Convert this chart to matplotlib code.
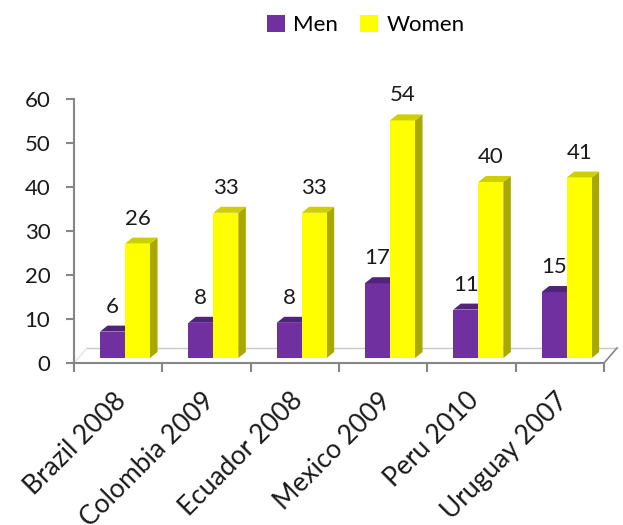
import matplotlib
matplotlib.use('Agg')
import matplotlib.pyplot as plt
from matplotlib.patches import Polygon, Patch
from matplotlib.transforms import ScaledTranslation
import numpy as np

categories = ['Brazil 2008', 'Colombia 2009', 'Ecuador 2008', 'Mexico 2009', 'Peru 2010', 'Uruguay 2007']
men = [6, 8, 8, 17, 11, 15]
women = [26, 33, 33, 54, 40, 41]
series_names = ['Men', 'Women']
yticks = [0, 10, 20, 30, 40, 50, 60]

plt.rcParams['font.family'] = ['Lato', 'DejaVu Sans']

W, H, DPI = 623, 525, 100
fig = plt.figure(figsize=(W / DPI, H / DPI), dpi=DPI)
L, R, B, T = 74, 604, 363, 99
ax = fig.add_axes([L / W, 1 - B / H, (R - L) / W, (B - T) / H])
n = len(categories)
ax.set_xlim(0, n)
ax.set_ylim(0, 60)
pxx = (R - L) / n
pxy = (B - T) / 60.0

def dx(p):
    return p / pxx

def dy(p):
    return p / pxy

gray = '#868686'
purple, purple_top, purple_side = '#7030A0', '#52237A', '#4A1F6E'
yellow, yellow_top, yellow_side = '#FFFF00', '#CFCF00', '#A8A800'

# floor (3D depth)
fd_x, fd_y = 13, 15
ax.plot([dx(fd_x), n + dx(fd_x)], [dy(fd_y), dy(fd_y)], color='#C8C8C8', lw=1.0, clip_on=False, zorder=1)
ax.plot([n, n + dx(fd_x)], [0, dy(fd_y)], color=gray, lw=1.2, clip_on=False, zorder=1)
ax.plot([0, dx(fd_x)], [0, dy(fd_y)], color='#E0E0E0', lw=0.8, clip_on=False, zorder=1)

base = dy(5)
bw = dx(25)
off0 = dx(26)
bdx, bdy = dx(7.5), dy(6)
x = np.arange(n)

def bar3d(xl, v, front, top, side, z):
    ax.bar(xl, v, width=bw, bottom=base, align='edge', color=front, zorder=z, linewidth=0)
    yt = base + v
    ax.add_patch(Polygon([[xl, yt], [xl + bw, yt], [xl + bw + bdx, yt + bdy], [xl + bdx, yt + bdy]],
                         closed=True, facecolor=top, edgecolor='none', zorder=z))
    ax.add_patch(Polygon([[xl + bw, base], [xl + bw, yt], [xl + bw + bdx, yt + bdy], [xl + bw + bdx, base + bdy]],
                         closed=True, facecolor=side, edgecolor='none', zorder=z - 0.5))

for i in range(n):
    xm = x[i] + off0
    xw = xm + bw
    bar3d(xm, men[i], purple, purple_top, purple_side, 3)
    bar3d(xw, women[i], yellow, yellow_top, yellow_side, 5)
    ax.annotate(str(men[i]), (xm + bw / 2, base + men[i]), xytext=(0, 15), textcoords='offset pixels',
                ha='center', va='bottom', fontsize=16, color='#1a1a1a', zorder=8)
    ax.annotate(str(women[i]), (xw + bw / 2, base + women[i]), xytext=(0, 15), textcoords='offset pixels',
                ha='center', va='bottom', fontsize=16, color='#1a1a1a', zorder=8)

for s in ['top', 'right']:
    ax.spines[s].set_visible(False)
for s in ['left', 'bottom']:
    ax.spines[s].set_color(gray)
    ax.spines[s].set_linewidth(1.5)

ax.set_yticks(yticks)
ax.set_yticklabels([str(t) for t in yticks])
ax.tick_params(axis='y', length=6, width=1.5, color=gray, pad=11, labelsize=16, labelcolor='#1a1a1a')
ax.set_xticks(np.arange(n + 1))
ax.set_xticklabels([])
ax.tick_params(axis='x', which='major', length=6.5, width=1.5, color=gray)
ax.set_xticks(x + 0.5, minor=True)
ax.set_xticklabels(categories, minor=True, rotation=45, ha='right', va='top', rotation_mode='anchor',
                   fontsize=19, color='#1a1a1a')
ax.tick_params(axis='x', which='minor', length=0, pad=18)
for lab in ax.get_xticklabels(minor=True):
    lab.set_transform(lab.get_transform() + ScaledTranslation(-5 / DPI, 0, fig.dpi_scale_trans))

handles = [Patch(facecolor=purple, edgecolor='none'), Patch(facecolor=yellow, edgecolor='none')]
fig.legend(handles, series_names, loc='upper center', bbox_to_anchor=(366 / W, 1 - 6 / H), ncol=2,
           frameon=False, fontsize=16, handlelength=0.8, handleheight=0.8, handletextpad=0.4,
           columnspacing=1.0, borderaxespad=0)

fig.savefig('out.png', dpi=DPI)
